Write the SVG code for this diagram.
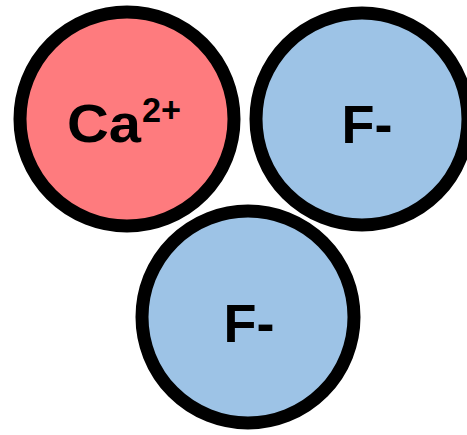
<svg xmlns="http://www.w3.org/2000/svg" width="467" height="435" viewBox="0 0 467 435">
<style>
.ion{stroke:#000;stroke-width:13}
.ca{fill:#fe7b7e}
.f{fill:#9dc3e6}
.lbl{font-family:"Liberation Sans",Arial,sans-serif;font-weight:bold;fill:#000}
</style>
<rect width="467" height="435" fill="#fff"/>
<g id="connectors"></g>
<g id="ca">
<circle class="ion ca" cx="127" cy="119" r="107"/>
<text class="lbl" font-size="54" x="67" y="142" textLength="74" lengthAdjust="spacingAndGlyphs">Ca</text>
<text class="lbl" font-size="35" x="142" y="122" textLength="39" lengthAdjust="spacingAndGlyphs">2+</text>
</g>
<g id="f1">
<circle class="ion f" cx="362" cy="119" r="106"/>
<text class="lbl" font-size="54" x="367" y="143" text-anchor="middle">F-</text>
</g>
<g id="f2">
<circle class="ion f" cx="248" cy="317" r="106"/>
<text class="lbl" font-size="54" x="249" y="342" text-anchor="middle">F-</text>
</g>
</svg>
